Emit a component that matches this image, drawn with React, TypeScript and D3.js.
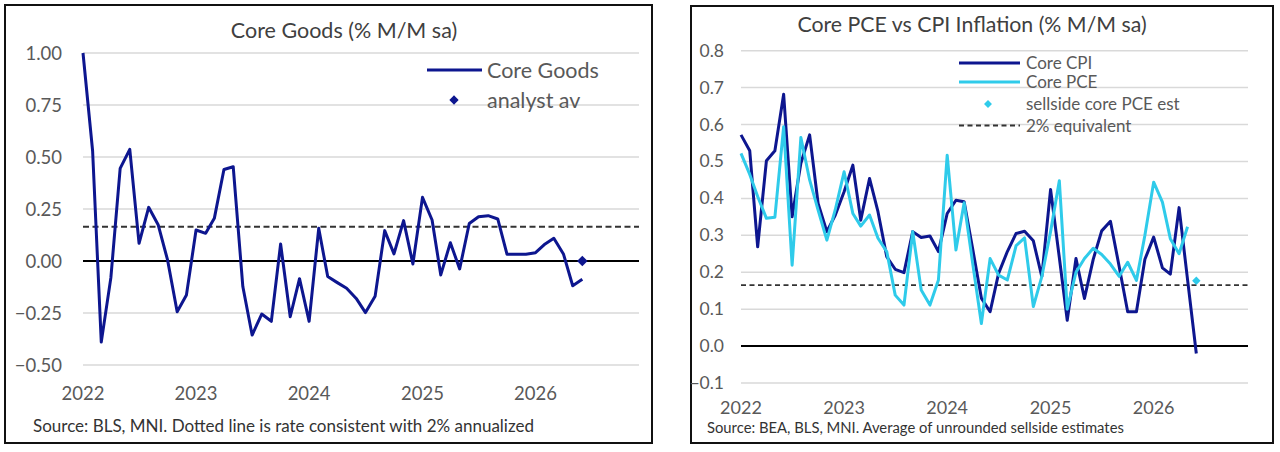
import * as d3 from "d3";
import React, { useEffect, useRef } from "react";

// monthly observations, Jan 2022 .. Jun 2026
const months = d3.timeMonth.range(new Date(2022, 0, 1), new Date(2026, 6, 1));

const coreGoods = [
  1.0, 0.53, -0.39, -0.08, 0.445, 0.537, 0.085, 0.258, 0.173, 0.005, -0.244, -0.163,
  0.149, 0.133, 0.205, 0.44, 0.453, -0.123, -0.356, -0.255, -0.29, 0.082, -0.268, -0.085,
  -0.29, 0.157, -0.075, -0.104, -0.131, -0.18, -0.248, -0.17, 0.146, 0.034, 0.194, -0.014,
  0.306, 0.197, -0.067, 0.088, -0.038, 0.18, 0.213, 0.218, 0.202, 0.032, 0.032, 0.032,
  0.04, 0.082, 0.109, 0.034, -0.119, -0.088,
];
const goodsAnalystAv = 0.0;

const coreCPI = [
  0.572, 0.529, 0.269, 0.502, 0.529, 0.682, 0.35, 0.495, 0.572, 0.386, 0.31, 0.355,
  0.418, 0.49, 0.341, 0.454, 0.364, 0.242, 0.208, 0.199, 0.31, 0.294, 0.298, 0.256,
  0.359, 0.395, 0.391, 0.26, 0.13, 0.093, 0.197, 0.256, 0.305, 0.311, 0.285, 0.188,
  0.424, 0.24, 0.07, 0.237, 0.129, 0.235, 0.312, 0.338, 0.215, 0.093, 0.093, 0.235,
  0.295, 0.212, 0.195, 0.375, 0.18, -0.02,
];
const corePCE = [
  0.522, 0.465, 0.405, 0.346, 0.349, 0.594, 0.219, 0.565, 0.45, 0.368, 0.287, 0.37,
  0.472, 0.359, 0.325, 0.355, 0.292, 0.256, 0.138, 0.111, 0.31, 0.152, 0.111, 0.179,
  0.517, 0.26, 0.388, 0.22, 0.061, 0.237, 0.192, 0.179, 0.272, 0.293, 0.107, 0.188,
  0.31, 0.448, 0.1, 0.2, 0.237, 0.265, 0.248, 0.222, 0.189, 0.227, 0.178, 0.3,
  0.444, 0.39, 0.291, 0.25, 0.323,
];
const pceSellsideEst = 0.177;

const twoPctMonthly = 0.165;
const goodsTicks = [-0.5, -0.25, 0, 0.25, 0.5, 0.75, 1.0];
const pceTicks = [-0.1, 0, 0.1, 0.2, 0.3, 0.4, 0.5, 0.6, 0.7, 0.8];
const yearTicks = [2022, 2023, 2024, 2025, 2026].map((y) => new Date(y, 0, 1));
const axisEnd = new Date(2026, 11, 1);

const NAVY = "#0d168f";
const CYAN = "#2fcbea";
const GRID = "#d9d9d9";
const LABEL = "#595959";
const FONT = "Lato, 'Liberation Sans', sans-serif";

const App: React.FC = () => {
  const ref = useRef<SVGSVGElement>(null);

  useEffect(() => {
    const svg = d3.select(ref.current);
    svg.selectAll("*").remove();

    svg.append("rect").attr("width", 1280).attr("height", 452).attr("fill", "#fff");

    // ---------- left panel: core goods ----------
    const L = svg.append("g");
    L.append("rect")
      .attr("x", 5).attr("y", 5).attr("width", 647).attr("height", 438)
      .attr("fill", "none").attr("stroke", "#111").attr("stroke-width", 2);

    const xL = d3.scaleTime().domain([months[0], axisEnd]).range([83, 639]);
    const yL = d3.scaleLinear().domain([-0.5, 1.0]).range([365, 53]);

    L.selectAll(".grid")
      .data(goodsTicks.filter((t) => t !== 0))
      .join("line")
      .attr("x1", 83).attr("x2", 639)
      .attr("y1", (d) => yL(d)).attr("y2", (d) => yL(d))
      .attr("stroke", GRID).attr("stroke-width", 1.5);

    L.selectAll(".ylab")
      .data(goodsTicks)
      .join("text")
      .attr("x", 62).attr("y", (d) => yL(d) + 6.5)
      .attr("text-anchor", "end")
      .attr("font-size", 18.5).attr("fill", LABEL)
      .text((d) => d3.format(".2f")(d));

    L.selectAll(".xlab")
      .data(yearTicks)
      .join("text")
      .attr("x", (d) => xL(d)).attr("y", 400)
      .attr("text-anchor", "middle")
      .attr("font-size", 18.5).attr("fill", LABEL)
      .text((d) => d3.timeFormat("%Y")(d));

    L.append("line")
      .attr("x1", 83).attr("x2", 639).attr("y1", yL(0)).attr("y2", yL(0))
      .attr("stroke", "#000").attr("stroke-width", 2);
    L.append("line")
      .attr("x1", 83).attr("x2", 639)
      .attr("y1", yL(twoPctMonthly)).attr("y2", yL(twoPctMonthly))
      .attr("stroke", "#333").attr("stroke-width", 2).attr("stroke-dasharray", "6,3.5");

    const lineL = d3.line<number>().x((_, i) => xL(months[i])).y((d) => yL(d));
    L.append("path")
      .attr("d", lineL(coreGoods))
      .attr("fill", "none").attr("stroke", NAVY).attr("stroke-width", 3)
      .attr("stroke-linejoin", "round");

    const diamond = d3.symbol().type(d3.symbolDiamond2);
    L.append("path")
      .attr("d", diamond.size(70)())
      .attr("transform", `translate(${xL(months[months.length - 1])},${yL(goodsAnalystAv)})`)
      .attr("fill", NAVY);

    L.append("text")
      .attr("x", 344).attr("y", 38).attr("text-anchor", "middle")
      .attr("font-size", 21.5).attr("fill", "#404040")
      .text("Core Goods (% M/M sa)");

    // legend
    L.append("line").attr("x1", 427).attr("x2", 482).attr("y1", 70).attr("y2", 70)
      .attr("stroke", NAVY).attr("stroke-width", 3);
    L.append("text").attr("x", 487).attr("y", 77.5).attr("font-size", 21.5).attr("fill", LABEL)
      .text("Core Goods");
    L.append("path").attr("d", diamond.size(55)())
      .attr("transform", "translate(454,100)").attr("fill", NAVY);
    L.append("text").attr("x", 487).attr("y", 107.5).attr("font-size", 21.5).attr("fill", LABEL)
      .text("analyst av");

    L.append("text")
      .attr("x", 33).attr("y", 432)
      .attr("font-size", 17).attr("fill", "#333")
      .text("Source: BLS, MNI. Dotted line is rate consistent with 2% annualized");

    // ---------- right panel: core PCE vs CPI ----------
    const R = svg.append("g");
    R.append("rect")
      .attr("x", 691).attr("y", 6).attr("width", 582).attr("height", 437)
      .attr("fill", "none").attr("stroke", "#111").attr("stroke-width", 2);

    const xR = d3.scaleTime().domain([months[0], axisEnd]).range([741, 1248]);
    const yR = d3.scaleLinear().domain([-0.1, 0.8]).range([383, 50.7]);

    R.selectAll(".grid")
      .data(pceTicks.filter((t) => t !== 0))
      .join("line")
      .attr("x1", 741).attr("x2", 1248)
      .attr("y1", (d) => yR(d)).attr("y2", (d) => yR(d))
      .attr("stroke", GRID).attr("stroke-width", 1.5);

    R.selectAll(".ylab")
      .data(pceTicks)
      .join("text")
      .attr("x", 724).attr("y", (d) => yR(d) + 6)
      .attr("text-anchor", "end")
      .attr("font-size", 17.5).attr("fill", LABEL)
      .text((d) => d3.format(".1f")(d));

    R.selectAll(".xlab")
      .data(yearTicks)
      .join("text")
      .attr("x", (d) => xR(d)).attr("y", 414)
      .attr("text-anchor", "middle")
      .attr("font-size", 18).attr("fill", LABEL)
      .text((d) => d3.timeFormat("%Y")(d));

    R.append("line")
      .attr("x1", 741).attr("x2", 1248).attr("y1", yR(0)).attr("y2", yR(0))
      .attr("stroke", "#000").attr("stroke-width", 2);
    R.append("line")
      .attr("x1", 741).attr("x2", 1248)
      .attr("y1", yR(twoPctMonthly)).attr("y2", yR(twoPctMonthly))
      .attr("stroke", "#333").attr("stroke-width", 1.8).attr("stroke-dasharray", "5,3.5");

    const lineR = d3.line<number>().x((_, i) => xR(months[i])).y((d) => yR(d));
    R.append("path")
      .attr("d", lineR(coreCPI))
      .attr("fill", "none").attr("stroke", NAVY).attr("stroke-width", 3)
      .attr("stroke-linejoin", "round");
    R.append("path")
      .attr("d", lineR(corePCE))
      .attr("fill", "none").attr("stroke", CYAN).attr("stroke-width", 3)
      .attr("stroke-linejoin", "round");
    R.append("path")
      .attr("d", diamond.size(45)())
      .attr("transform", `translate(${xR(months[months.length - 1])},${yR(pceSellsideEst)})`)
      .attr("fill", CYAN);

    R.append("text")
      .attr("x", 972).attr("y", 32).attr("text-anchor", "middle")
      .attr("font-size", 21.3).attr("fill", "#404040")
      .text("Core PCE vs CPI Inflation (% M/M sa)");

    // legend
    const lg = [
      { y: 63, label: "Core CPI", kind: "line", color: NAVY },
      { y: 82, label: "Core PCE", kind: "line", color: CYAN },
      { y: 104, label: "sellside core PCE est", kind: "dot", color: CYAN },
      { y: 125.5, label: "2% equivalent", kind: "dash", color: "#333" },
    ];
    lg.forEach((d) => {
      if (d.kind === "dot") {
        R.append("path").attr("d", diamond.size(40)())
          .attr("transform", `translate(988,${d.y})`).attr("fill", d.color);
      } else {
        R.append("line").attr("x1", 959).attr("x2", 1020).attr("y1", d.y).attr("y2", d.y)
          .attr("stroke", d.color)
          .attr("stroke-width", d.kind === "dash" ? 1.8 : 3)
          .attr("stroke-dasharray", d.kind === "dash" ? "5,3.5" : null);
      }
      R.append("text").attr("x", 1026).attr("y", d.y + 6)
        .attr("font-size", 17).attr("fill", LABEL).text(d.label);
    });

    R.append("text")
      .attr("x", 707).attr("y", 433)
      .attr("font-size", 14.8).attr("fill", "#333")
      .text("Source: BEA, BLS, MNI. Average of unrounded sellside estimates");
  }, []);

  return (
    <>
      <style>{`body{margin:0}`}</style>
      <svg ref={ref} width={1280} height={452} style={{ display: "block", fontFamily: FONT }} />
    </>
  );
};

export default App;
